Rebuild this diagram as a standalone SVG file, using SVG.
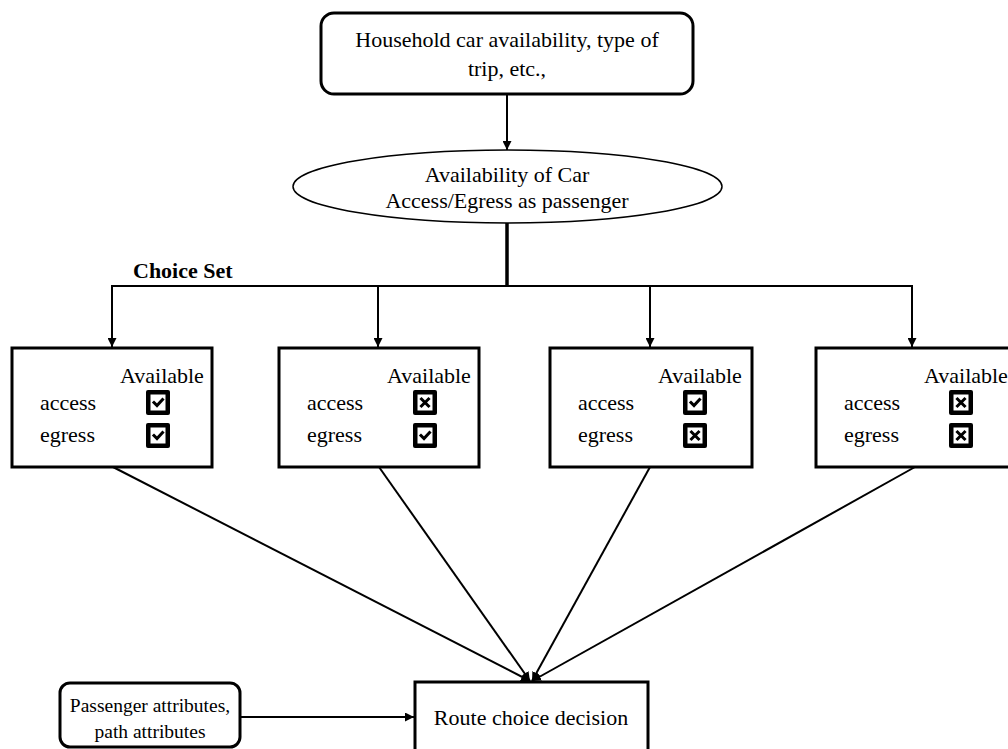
<svg xmlns="http://www.w3.org/2000/svg" width="1008" height="749" viewBox="0 0 1008 749">
<style>
.box{fill:#fff;stroke:#000;stroke-width:3}
.ln{fill:none;stroke:#000;stroke-width:2}
.cb{fill:#000}
.cw{fill:#fff}
.mk{fill:none;stroke:#000;stroke-width:3;stroke-linecap:square}
.t1{font-family:"Liberation Serif",serif;font-size:22px}
.ts{font-family:"Liberation Serif",serif;font-size:19.5px}
.tb{font-family:"Liberation Serif",serif;font-size:22px;font-weight:bold}
</style>
<defs>
<marker id="ah" viewBox="0 0 10 10" refX="10" refY="5" markerWidth="9" markerHeight="9" markerUnits="userSpaceOnUse" orient="auto">
<path d="M0,0 L10,5 L0,10 z" fill="#000"/>
</marker>
</defs>
<rect width="1008" height="749" fill="#fff"/>

<g id="connectors">
<line class="ln" x1="507" y1="94" x2="507" y2="150" marker-end="url(#ah)"/>
<line x1="507" y1="223" x2="507" y2="286" stroke="#000" stroke-width="3.5"/>
<line class="ln" x1="111" y1="286" x2="913" y2="286"/>
<line class="ln" x1="112" y1="286" x2="112" y2="347" marker-end="url(#ah)"/>
<line class="ln" x1="378" y1="286" x2="378" y2="347" marker-end="url(#ah)"/>
<line class="ln" x1="650" y1="286" x2="650" y2="347" marker-end="url(#ah)"/>
<line class="ln" x1="912" y1="286" x2="912" y2="347" marker-end="url(#ah)"/>
<line class="ln" stroke-width="2.5" x1="113" y1="467" x2="530" y2="681" marker-end="url(#ah)"/>
<line class="ln" stroke-width="2.5" x1="379" y1="467" x2="530" y2="681" marker-end="url(#ah)"/>
<line class="ln" stroke-width="2.5" x1="650" y1="467" x2="532" y2="681" marker-end="url(#ah)"/>
<line class="ln" stroke-width="2.5" x1="915" y1="467" x2="532" y2="681" marker-end="url(#ah)"/>
<line class="ln" x1="240" y1="717" x2="414" y2="717" marker-end="url(#ah)"/>
</g>

<g id="top">
<rect class="box" x="321" y="13" width="372" height="81" rx="13"/>
<text class="t1" x="507" y="47" text-anchor="middle">Household car availability, type of</text>
<text class="t1" x="507" y="76" text-anchor="middle">trip, etc.,</text>
</g>

<g id="avail">
<ellipse cx="507.5" cy="186.5" rx="214.5" ry="36.5" fill="#fff" stroke="#000" stroke-width="1.5"/>
<text class="t1" x="507" y="182" text-anchor="middle">Availability of Car</text>
<text class="t1" x="507" y="208" text-anchor="middle">Access/Egress as passenger</text>
</g>

<g id="choiceset">
<text class="tb" x="133" y="278">Choice Set</text>
</g>

<g id="opt1">
<rect class="box" x="12" y="348" width="200" height="119"/>
<text class="t1" x="120" y="383">Available</text>
<text class="t1" x="40" y="410">access</text>
<text class="t1" x="40" y="442">egress</text>
<g transform="translate(146,390)"><rect class="cb" width="24" height="25" rx="2"/><rect class="cw" x="4.5" y="4.5" width="15" height="16"/><path class="mk" d="M8,12.5 L11,15.5 L16.5,9.5"/></g>
<g transform="translate(146,423)"><rect class="cb" width="24" height="25" rx="2"/><rect class="cw" x="4.5" y="4.5" width="15" height="16"/><path class="mk" d="M8,12.5 L11,15.5 L16.5,9.5"/></g>
</g>

<g id="opt2">
<rect class="box" x="279" y="348" width="200" height="119"/>
<text class="t1" x="387" y="383">Available</text>
<text class="t1" x="307" y="410">access</text>
<text class="t1" x="307" y="442">egress</text>
<g transform="translate(413,390)"><rect class="cb" width="24" height="25" rx="2"/><rect class="cw" x="4.5" y="4.5" width="15" height="16"/><path class="mk" d="M8.5,9 L15.5,16 M15.5,9 L8.5,16"/></g>
<g transform="translate(413,423)"><rect class="cb" width="24" height="25" rx="2"/><rect class="cw" x="4.5" y="4.5" width="15" height="16"/><path class="mk" d="M8,12.5 L11,15.5 L16.5,9.5"/></g>
</g>

<g id="opt3">
<rect class="box" x="550" y="348" width="202" height="119"/>
<text class="t1" x="658" y="383">Available</text>
<text class="t1" x="578" y="410">access</text>
<text class="t1" x="578" y="442">egress</text>
<g transform="translate(683,390)"><rect class="cb" width="24" height="25" rx="2"/><rect class="cw" x="4.5" y="4.5" width="15" height="16"/><path class="mk" d="M8,12.5 L11,15.5 L16.5,9.5"/></g>
<g transform="translate(683,423)"><rect class="cb" width="24" height="25" rx="2"/><rect class="cw" x="4.5" y="4.5" width="15" height="16"/><path class="mk" d="M8.5,9 L15.5,16 M15.5,9 L8.5,16"/></g>
</g>

<g id="opt4">
<rect class="box" x="816" y="348" width="200" height="119"/>
<text class="t1" x="924" y="383">Available</text>
<text class="t1" x="844" y="410">access</text>
<text class="t1" x="844" y="442">egress</text>
<g transform="translate(949,390)"><rect class="cb" width="24" height="25" rx="2"/><rect class="cw" x="4.5" y="4.5" width="15" height="16"/><path class="mk" d="M8.5,9 L15.5,16 M15.5,9 L8.5,16"/></g>
<g transform="translate(949,423)"><rect class="cb" width="24" height="25" rx="2"/><rect class="cw" x="4.5" y="4.5" width="15" height="16"/><path class="mk" d="M8.5,9 L15.5,16 M15.5,9 L8.5,16"/></g>
</g>

<g id="passenger">
<rect class="box" x="60" y="683" width="180" height="64" rx="10"/>
<text class="ts" x="150" y="712" text-anchor="middle">Passenger attributes,</text>
<text class="ts" x="150" y="738" text-anchor="middle">path attributes</text>
</g>

<g id="route">
<rect class="box" x="415" y="682" width="233" height="80"/>
<text class="t1" x="531" y="725" text-anchor="middle">Route choice decision</text>
</g>
</svg>
